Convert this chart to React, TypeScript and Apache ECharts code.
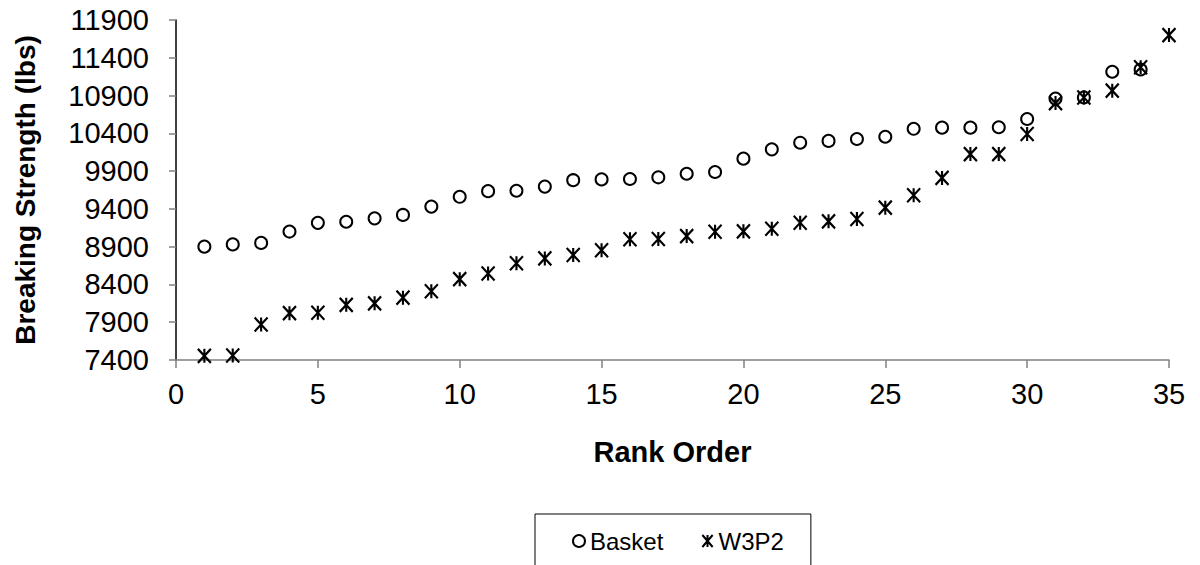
import React, { useEffect, useRef } from "react";
import * as echarts from "echarts";

const basket: number[] = [
  8900, 8930, 8950, 9100, 9215, 9230, 9275, 9320, 9430, 9560,
  9635, 9640, 9695, 9780, 9790, 9795, 9818, 9865, 9888, 10065,
  10188, 10276, 10300, 10325, 10355, 10460, 10475, 10475, 10480, 10590,
  10860, 10875, 11215, 11245,
];

const w3p2: number[] = [
  7455, 7460, 7870, 8020, 8025, 8130, 8150, 8225, 8310, 8470,
  8545, 8680, 8745, 8790, 8853, 8998, 9001, 9040, 9098, 9103,
  9138, 9217, 9235, 9266, 9416, 9580, 9810, 10125, 10125, 10392,
  10800, 10875, 10965, 11275, 11700,
];

const yTicks: number[] = [7400, 7900, 8400, 8900, 9400, 9900, 10400, 10900, 11400, 11900];
const xTicks: number[] = [0, 5, 10, 15, 20, 25, 30, 35];

const FONT = "'Liberation Sans', Arial, sans-serif";
const STAR = "path://M0,0L12,14M12,0L0,14M6,0L6,14";

export default function App() {
  const ref = useRef<HTMLDivElement>(null);

  useEffect(() => {
    if (!ref.current) return;
    const chart = echarts.init(ref.current, undefined, { renderer: "svg" });
    chart.setOption({
      animation: false,
      backgroundColor: "#ffffff",
      textStyle: { fontFamily: FONT, color: "#000" },
      grid: { left: 176, top: 20, right: 31, bottom: 205, containLabel: false },
      legend: {
        left: 535,
        top: 514,
        orient: "horizontal",
        borderColor: "#000",
        borderWidth: 1,
        borderRadius: 0,
        padding: [15, 27, 18, 37],
        itemGap: 38,
        itemWidth: 12,
        itemHeight: 12,
        textStyle: { fontSize: 24, color: "#000", fontFamily: FONT },
        data: ["Basket", "W3P2"],
      },
      xAxis: {
        type: "value",
        min: 0,
        max: 35,
        interval: 5,
        name: "Rank Order",
        nameLocation: "middle",
        nameGap: 77,
        nameTextStyle: { fontSize: 29, fontWeight: "bold", color: "#000", fontFamily: FONT },
        axisLine: { show: true, onZero: false, lineStyle: { color: "#808080", width: 1.5 } },
        axisTick: { show: true, inside: false, length: 8, lineStyle: { color: "#808080", width: 1.5 }, customValues: xTicks },
        axisLabel: {
          fontSize: 29,
          color: "#000",
          margin: 19,
          fontFamily: FONT,
          customValues: xTicks,
          formatter: (v: number) => String(v),
        },
        splitLine: { show: false },
      },
      yAxis: {
        type: "value",
        min: 7400,
        max: 11900,
        name: "Breaking Strength (lbs)",
        nameLocation: "middle",
        nameGap: 137,
        nameTextStyle: { fontSize: 28, fontWeight: "bold", color: "#000", fontFamily: FONT },
        axisLine: { show: true, onZero: false, lineStyle: { color: "#000", width: 1.5 } },
        axisTick: { show: true, inside: false, length: 7, lineStyle: { color: "#808080", width: 1.5 }, customValues: yTicks },
        axisLabel: {
          fontSize: 29,
          color: "#000",
          margin: 27,
          fontFamily: FONT,
          customValues: yTicks,
          formatter: (v: number) => String(v),
        },
        splitLine: { show: false },
      },
      series: [
        {
          name: "Basket",
          type: "scatter",
          symbol: "circle",
          symbolSize: 12,
          itemStyle: { color: "rgba(255,255,255,0)", borderColor: "#000", borderWidth: 2, opacity: 1 },
          data: basket.map((v, i) => [i + 1, v]),
          z: 2,
        },
        {
          name: "W3P2",
          type: "scatter",
          symbol: STAR,
          symbolSize: [13, 14],
          itemStyle: { color: "rgba(0,0,0,0)", borderColor: "#000", borderWidth: 2.2, opacity: 1 },
          data: w3p2.map((v, i) => [i + 1, v]),
          z: 3,
        },
      ],
    });
    return () => chart.dispose();
  }, []);

  return (
    <div
      ref={ref}
      style={{ position: "absolute", left: 0, top: 0, width: 1200, height: 565, background: "#fff" }}
    />
  );
}
